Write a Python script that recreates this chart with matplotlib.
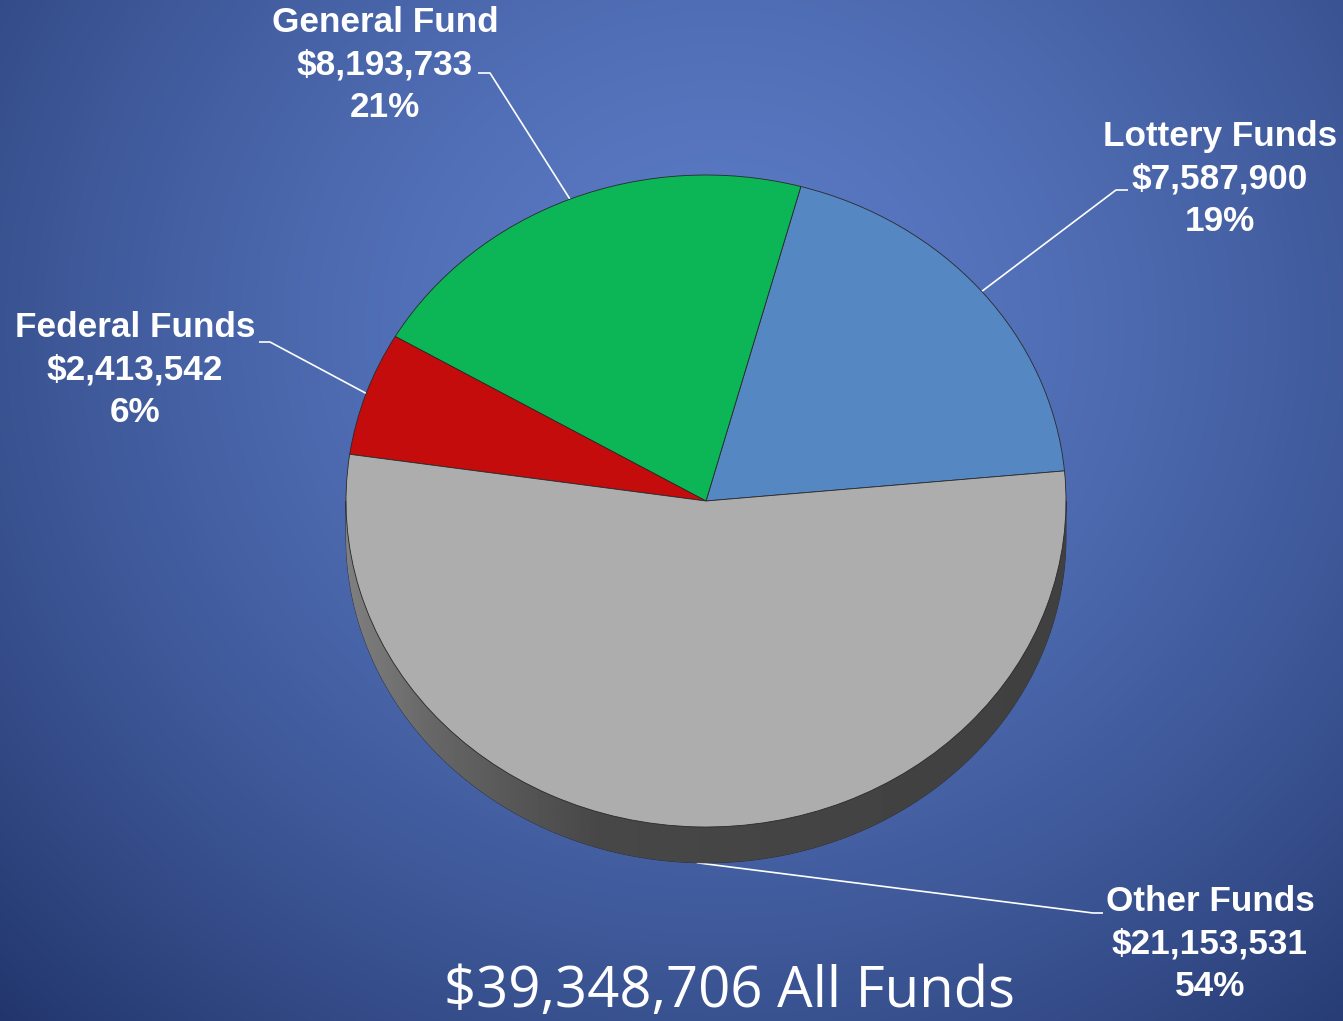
import numpy as np
import matplotlib
matplotlib.use('Agg')
import matplotlib.pyplot as plt
from matplotlib.patches import PathPatch
from matplotlib.path import Path
from matplotlib.colors import to_rgb

# Fund sources (counterclockwise from the right-hand edge)
fund_names = ['Lottery Funds', 'General Fund', 'Federal Funds', 'Other Funds']
fund_amounts = [7587900, 8193733, 2413542, 21153531]
fund_colors = ['#5587c3', '#0cb556', '#c40c0c', '#adadad']

# where each label block sits (pixels from top-left) and where its leader bends
label_centers = [(1220, 179), (385, 65), (135, 370), (1210, 944)]
leader_elbows = [((1116, 190), (1128, 190)), ((490, 73), (478, 73)),
                 ((270, 342), (259, 342)), ((1093, 913), (1103, 913))]

W, H = 1343, 1021
fig = plt.figure(figsize=(W / 100, H / 100), dpi=100)

# background: soft radial blue gradient
bg = fig.add_axes([0, 0, 1, 1])
yy, xx = np.mgrid[0:H, 0:W]
r = np.sqrt(((xx - 720) / 850.0) ** 2 + ((yy - 330) / 800.0) ** 2)
t = np.clip(r / 1.21, 0, 1) ** 1.5
c0 = np.array(to_rgb('#5b7bc6'))
c1 = np.array(to_rgb('#22366c'))
grad = c0[None, None, :] * (1 - t[..., None]) + c1[None, None, :] * t[..., None]
bg.imshow(grad, extent=(0, W, H, 0), aspect='auto', zorder=0)
bg.set_xlim(0, W)
bg.set_ylim(H, 0)
bg.axis('off')

# pie axes: unit circle squashed into an ellipse (rx=360px, ry=326px)
cx, cy, rx, ry = 706, 501, 360, 326
x0, x1, y0, y1 = -1.1, 1.1, -1.25, 1.1
ax = fig.add_axes([(cx + x0 * rx) / W, (H - cy + y0 * ry) / H,
                   (x1 - x0) * rx / W, (y1 - y0) * ry / H])
ax.patch.set_alpha(0)
depth = 0.11

# cylinder side under the front half
th = np.linspace(np.pi, 2 * np.pi, 200)
top_edge = np.column_stack([np.cos(th), np.sin(th)])
bot_edge = np.column_stack([np.cos(th[::-1]), np.sin(th[::-1]) - depth])
side_path = Path(np.vstack([top_edge, bot_edge, top_edge[:1]]), closed=True)
side = PathPatch(side_path, facecolor='none', edgecolor='#2a2a2a', lw=0.6, zorder=1)
ax.add_patch(side)
gx = np.linspace(-1, 1, 400)
shade = np.interp(gx, [-1, -0.75, -0.3, 1], [0.50, 0.40, 0.28, 0.25])
side_img = np.repeat(shade[None, :], 2, axis=0)
im = ax.imshow(side_img, extent=(-1, 1, -1 - depth, 0), cmap='gray', vmin=0, vmax=1,
               aspect='auto', zorder=1)
im.set_clip_path(side)

wedges, _ = ax.pie(fund_amounts, colors=fund_colors, startangle=5.3, counterclock=True,
                   radius=1, wedgeprops=dict(edgecolor='#2a2a2a', linewidth=0.6))
for w in wedges:
    w.set_zorder(2)
ax.set_aspect('auto')
ax.set_xlim(x0, x1)
ax.set_ylim(y0, y1)
ax.axis('off')

total = sum(fund_amounts)
fig.canvas.draw()
for w, name, amt, (lx, ly), (elbow, end) in zip(wedges, fund_names, fund_amounts,
                                                label_centers, leader_elbows):
    mid = np.deg2rad((w.theta1 + w.theta2) / 2)
    px, py = np.cos(mid), np.sin(mid)
    if py < 0:
        py -= depth
    dx, dy = ax.transData.transform((px, py))
    anchor = (dx, H - dy)
    bg.plot([anchor[0], elbow[0], end[0]], [anchor[1], elbow[1], end[1]],
            color='white', lw=1.2, zorder=3, solid_capstyle='butt')
    pct = round(amt / total * 100)
    bg.text(lx, ly, f'{name}\n${amt:,}\n{pct}%', ha='center', va='center',
            color='white', fontsize=25.3, fontweight='bold', family='Liberation Sans',
            linespacing=1.36, zorder=4)

bg.text(729, 1007, f'${total:,} All Funds', ha='center', va='baseline',
        color='white', fontsize=40.5, family='Open Sans', zorder=4)

fig.savefig('out.png', dpi=100)
